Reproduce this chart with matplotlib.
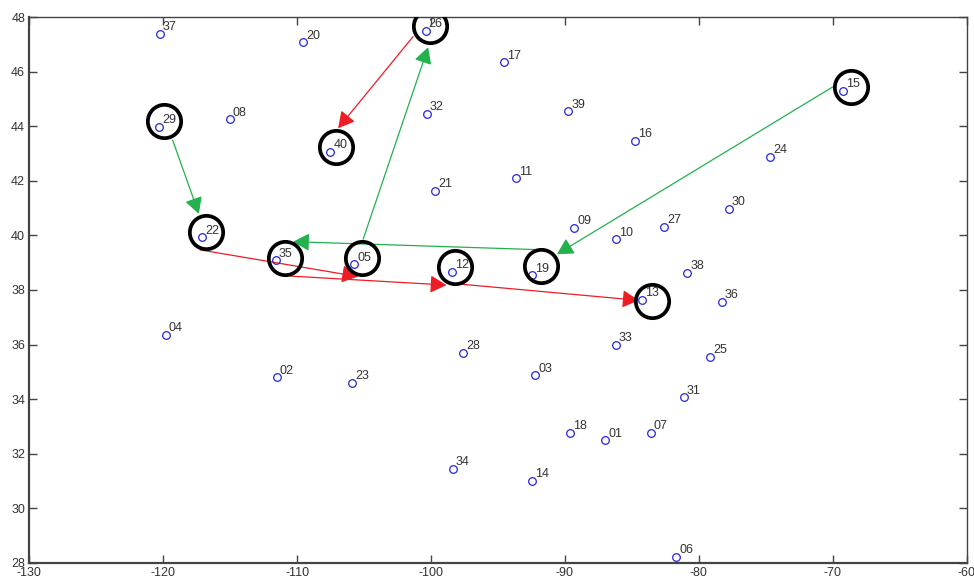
import matplotlib
matplotlib.use('Agg')
import matplotlib.pyplot as plt

plt.rcParams['font.family'] = ['Liberation Sans', 'DejaVu Sans']
plt.rcParams['axes.unicode_minus'] = False

# station ids and positions (lon, lat)
ids = ['01', '02', '03', '04', '05', '06', '07', '08', '09', '10',
       '11', '12', '13', '14', '15', '16', '17', '18', '19', '20',
       '21', '22', '23', '24', '25', '26', '27', '28', '29', '30',
       '31', '32', '33', '34', '35', '36', '37', '38', '39', '40']
lon = [-87.01, -111.54, -92.24, -119.82, -105.74, -81.69, -83.60, -115.02, -89.30, -86.16,
       -93.66, -98.46, -84.22, -92.46, -69.25, -84.78, -94.55, -89.60, -92.46, -109.55,
       -99.67, -117.09, -105.90, -74.67, -79.18, -100.40, -82.61, -97.58, -120.30, -77.76,
       -81.12, -100.32, -86.19, -98.38, -111.59, -78.31, -120.25, -80.87, -89.75, -107.51]
lat = [32.49, 34.80, 34.87, 36.35, 38.94, 28.22, 32.77, 44.26, 40.27, 39.86,
       42.10, 38.67, 37.65, 31.01, 45.31, 43.46, 46.35, 32.77, 38.54, 47.08,
       41.64, 39.93, 34.59, 42.88, 35.54, 47.50, 40.31, 35.69, 43.99, 40.97,
       34.07, 44.45, 36.00, 31.44, 39.09, 37.57, 47.40, 38.64, 44.55, 43.07]

# highlighted stations (hand drawn circles)
circ_lon = [-119.95, -116.79, -110.87, -107.11, -100.10, -105.19, -98.21, -91.76, -83.53, -68.66]
circ_lat = [44.20, 40.14, 39.18, 43.25, 47.69, 39.18, 38.85, 38.88, 37.60, 45.43]

# route arrows: start -> end, colour
arr_x0 = [-119.30, -70.02, -91.52, -105.07, -101.34, -117.26, -110.54, -98.38]
arr_y0 = [43.50, 45.44, 39.47, 39.86, 47.29, 39.47, 38.51, 38.24]
arr_x1 = [-117.34, -90.60, -110.30, -100.22, -106.94, -105.45, -98.85, -84.50]
arr_y1 = [40.79, 39.31, 39.77, 46.90, 43.93, 38.49, 38.18, 37.62]
arr_col = ['g', 'g', 'g', 'g', 'r', 'r', 'r', 'r']
colors = {'g': '#22b14c', 'r': '#ee1c24'}

fig = plt.figure(figsize=(9.74, 5.84), dpi=100)
ax = fig.add_axes([0.0301, 0.0365, 0.9624, 0.934])

ax.plot(lon, lat, 'o', ls='none', mfc='none', mec='#2525e0', ms=5.5, mew=0.9, zorder=3)
for s, x, y in zip(ids, lon, lat):
    ax.annotate(s, (x, y), xytext=(2.2, 2.6), textcoords='offset points',
                ha='left', va='baseline', fontsize=9, color='#333333', zorder=4)

for x0, y0, x1, y1, c in zip(arr_x0, arr_y0, arr_x1, arr_y1, arr_col):
    ax.annotate('', xy=(x1, y1), xytext=(x0, y0),
                arrowprops=dict(arrowstyle='-|>,head_length=0.55,head_width=0.3',
                                color=colors[c], lw=0.9, mutation_scale=18,
                                shrinkA=0, shrinkB=0), zorder=2)

ax.plot(circ_lon, circ_lat, 'o', ls='none', mfc='none', mec='black', ms=24, mew=2.7, zorder=5)

ax.set_xlim(-130, -60)
ax.set_ylim(28, 48)
ax.set_xticks(range(-130, -59, 10))
ax.set_yticks(range(28, 49, 2))
ax.tick_params(direction='in', top=True, right=True, length=6, width=1,
               labelsize=9, labelcolor='#333333', color='#444444', pad=3)
for sp in ax.spines.values():
    sp.set_color('#444444')
    sp.set_linewidth(1.0)
ax.spines['left'].set_linewidth(1.6)
ax.spines['bottom'].set_linewidth(1.6)

plt.savefig('out.png', dpi=100)
plt.close()
